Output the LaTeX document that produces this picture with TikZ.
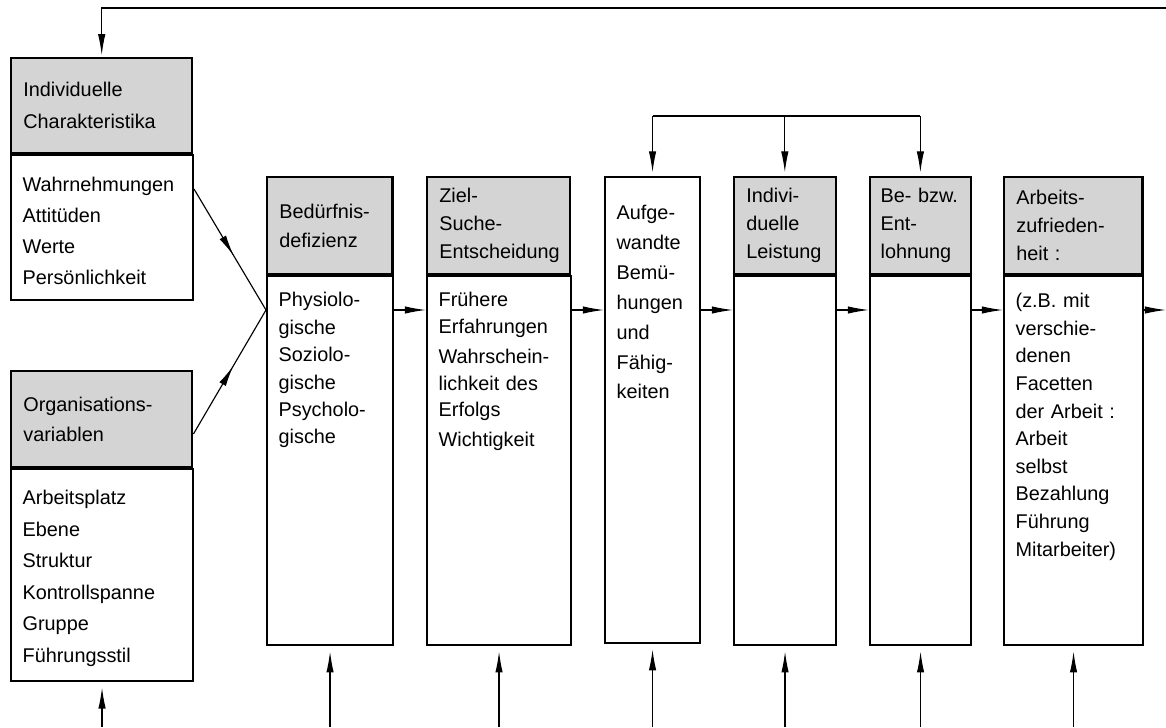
\documentclass[tikz,border=0pt]{standalone}
\usepackage{fontspec}
\setmainfont{Liberation Sans}
\usepackage{tikz}
\usetikzlibrary{arrows.meta}
\usetikzlibrary{decorations.markings}
\newcommand{\boxfont}[1]{\fontsize{11.3pt}{#1}\selectfont}
\tikzset{
headbox/.style={draw, line width=1.2pt, fill=black!17, anchor=north west, align=left, inner xsep=7pt, inner ysep=0pt, minimum height=1.94cm},
bodybox/.style={draw, line width=1.2pt, anchor=north west, inner sep=0pt},
bodytext/.style={anchor=north west, align=left, inner sep=0pt},
flow/.style={-{Latex[length=12pt,width=4.2pt]}, line width=0.65pt},
midarrow/.style={line width=0.65pt, decoration={markings, mark=at position 0.55 with {\arrow{Latex[length=12pt,width=4.2pt]}}}, postaction={decorate}}}

\begin{document}
\begin{tikzpicture}[x=0.02cm, y=-0.02cm]
    \useasboundingbox (0,0) rectangle (1166,727);

                \node[headbox, minimum height=1.9cm, text width=89.2pt, font=\boxfont{18pt}] (h1) at (10,57) {Individuelle\\Charakteristika};
                \node[bodybox, minimum width=3.64cm, minimum height=2.9cm] (b1) at (h1.south west) {};
                \node[bodytext, text width=89.2pt, font=\boxfont{17.6pt}] (t1) at ([xshift=7pt, yshift=-0.46cm]b1.north west) {Wahrnehmungen\\Attitüden\\Werte\\Persönlichkeit};

                \node[headbox, minimum height=1.92cm, text width=89.2pt, font=\boxfont{17pt}] (h2) at (10,370) {Organisations-\\variablen};
                \node[bodybox, minimum width=3.64cm, minimum height=4.24cm] (b2) at (h2.south west) {};
                \node[bodytext, text width=89.2pt, font=\boxfont{17.9pt}] (t2) at ([xshift=7pt, yshift=-0.44cm]b2.north west) {Arbeitsplatz\\Ebene\\Struktur\\Kontrollspanne\\Gruppe\\Führungsstil};

                \node[headbox, text width=57.4pt, font=\boxfont{16.4pt}] (h3) at (266,176) {Bedürfnis-\\defizienz};
                \node[bodybox, minimum width=2.52cm, minimum height=7.38cm] (b3) at (h3.south west) {};
                \node[bodytext, text width=57.4pt, font=\boxfont{15.6pt}] (t3) at ([xshift=7pt, yshift=-0.34cm]b3.north west) {Physiolo-\\gische\\Soziolo-\\gische\\Psycholo-\\gische};

                \node[headbox, text width=67.6pt, font=\boxfont{15.9pt}] (h4) at (426,176) {Ziel-\\Suche-\\Entscheidung};
                \node[bodybox, minimum width=2.88cm, minimum height=7.38cm] (b4) at (h4.south west) {};
                \node[bodytext, text width=67.6pt, font=\boxfont{15.2pt}] (t4) at ([xshift=7pt, yshift=-0.34cm]b4.north west) {Frühere\\Erfahrungen\\[1.8pt]Wahrschein-\\lichkeit~des\\Erfolgs\\[1.8pt]Wichtigkeit};

                \node[bodybox, minimum width=1.9cm, minimum height=9.32cm] (b5) at (604,176) {};
                \node[bodytext, text width=39.9pt, font=\boxfont{17pt}] (t5) at ([xshift=7pt, yshift=-0.58cm]b5.north west) {Aufge-\\wandte\\Bemü-\\hungen\\und\\Fähig-\\keiten};

                \node[headbox, text width=43.8pt, font=\boxfont{15.9pt}] (h6) at (733,176) {Indivi-\\duelle\\Leistung};
                \node[bodybox, minimum width=2.04cm, minimum height=7.38cm] (b6) at (h6.south west) {};

                \node[headbox, inner xsep=6pt, text width=45.3pt, font=\boxfont{15.9pt}] (h7) at (869,176) {\mbox{Be- bzw.}\\Ent-\\lohnung};
                \node[bodybox, minimum width=2.02cm, minimum height=7.38cm] (b7) at (h7.south west) {};

                \node[headbox, text width=64.8pt, font=\boxfont{15.9pt}] (h8) at (1003,176) {Arbeits-\\zufrieden-\\heit~:};
                \node[bodybox, minimum width=2.78cm, minimum height=7.38cm] (b8) at (h8.south west) {};
                \node[bodytext, text width=64.8pt, font=\boxfont{15.7pt}] (t8) at ([xshift=7pt, yshift=-0.36cm]b8.north west) {(z.B.~mit\\verschie-\\denen\\Facetten\\der~Arbeit~:\\Arbeit\\selbst\\Bezahlung\\Führung\\Mitarbeiter)};

                \coordinate (flow) at (0,310);
                \coordinate (bus) at (0,116);
                \coordinate (foot) at (0,727);
                \coordinate (back) at (1166,8);
                \coordinate (out) at (1166,310);

                \draw[midarrow] ([yshift=-0.7cm]b1.north east) -- (b3.west |- flow);
                \draw[midarrow] ([yshift=-0.3cm]h2.east) -- (b3.west |- flow);

                \draw[flow] (b3.east |- flow) -- (b4.west |- flow);
                \draw[flow] (b4.east |- flow) -- (b5.west |- flow);
                \draw[flow] (b5.east |- flow) -- (b6.west |- flow);
                \draw[flow] (b6.east |- flow) -- (b7.west |- flow);
                \draw[flow] (b7.east |- flow) -- (b8.west |- flow);
                \draw[flow] (b8.east |- flow) -- (out);

                \draw[flow, shorten >=1pt] (back) -| (h1.north);

                \draw[line width=0.65pt] (b5.north |- bus) -- (h7.north |- bus);
                \draw[flow, shorten >=2pt] (b5.north |- bus) -- (b5.north);
                \draw[flow, shorten >=2pt] (h6.north |- bus) -- (h6.north);
                \draw[flow, shorten >=2pt] (h7.north |- bus) -- (h7.north);

                \draw[flow, shorten >=3pt] (b2.south |- foot) -- (b2.south);
                \draw[flow, shorten >=3pt] (b3.south |- foot) -- (b3.south);
                \draw[flow, shorten >=3pt] (b4.south |- foot) -- (b4.south);
                \draw[flow, shorten >=3pt] (b5.south |- foot) -- (b5.south);
                \draw[flow, shorten >=3pt] (b6.south |- foot) -- (b6.south);
                \draw[flow, shorten >=3pt] (b7.south |- foot) -- (b7.south);
                \draw[flow, shorten >=3pt] (b8.south |- foot) -- (b8.south);

            \end{tikzpicture}
\end{document}
